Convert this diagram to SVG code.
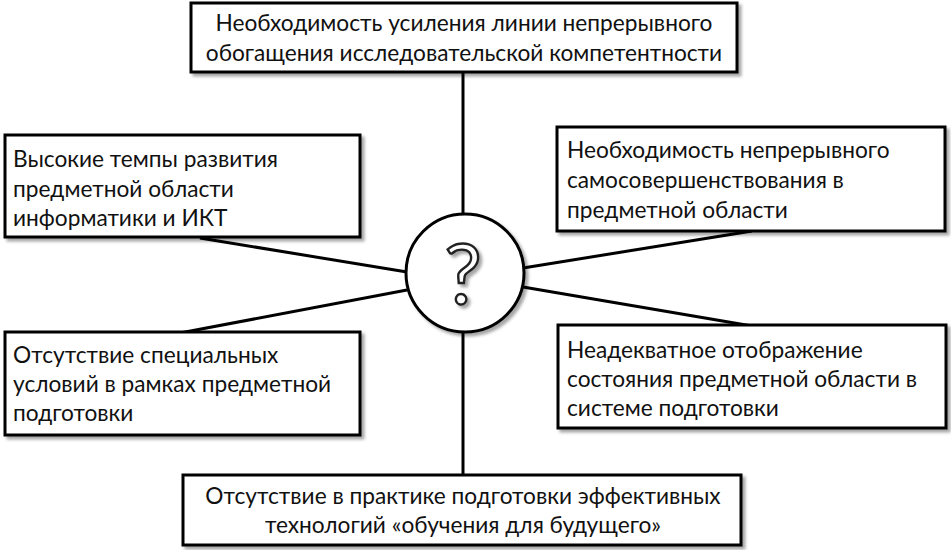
<svg xmlns="http://www.w3.org/2000/svg" width="951" height="550" viewBox="0 0 951 550">
<defs>
<filter id="sh" x="-10%" y="-10%" width="120%" height="130%">
<feDropShadow dx="3" dy="3" stdDeviation="1.5" flood-color="#000" flood-opacity="0.35"/>
</filter>
<style>
.box{fill:#fff;stroke:#000;stroke-width:3}
.t{font-family:Lato,"Open Sans","Liberation Sans",sans-serif;font-size:22.7px;fill:#111}
.c{text-anchor:middle}
.ln{stroke:#000;stroke-width:3;fill:none}
</style>
</defs>
<rect width="951" height="550" fill="#fff"/>
<g id="connectors">
<line class="ln" x1="463" y1="72" x2="463" y2="215"/>
<line class="ln" x1="463" y1="330" x2="463" y2="476"/>
<line class="ln" x1="200" y1="238" x2="407" y2="272"/>
<line class="ln" x1="180" y1="333" x2="407" y2="290"/>
<line class="ln" x1="752" y1="231" x2="523" y2="268"/>
<line class="ln" x1="752" y1="326" x2="523" y2="287"/>
</g>
<g id="center">
<circle cx="465" cy="273" r="59" fill="#fff" stroke="#000" stroke-width="3" filter="url(#sh)"/>
<text x="463" y="304" text-anchor="middle" font-family="Lato,'Liberation Sans',sans-serif" font-size="84" fill="#fff" stroke="#222" stroke-width="2.4" filter="url(#sh)">?</text>
</g>
<g id="n-top">
<rect class="box" x="191" y="3" width="546" height="69" filter="url(#sh)"/>
<text class="t c" x="464" y="31">Необходимость усиления линии непрерывного</text>
<text class="t c" x="464" y="61">обогащения исследовательской компетентности</text>
</g>
<g id="n-lefttop">
<rect class="box" x="5" y="135" width="355" height="102" filter="url(#sh)"/>
<text class="t" x="13" y="167">Высокие темпы развития</text>
<text class="t" x="13" y="197">предметной области</text>
<text class="t" x="13" y="226">информатики и ИКТ</text>
</g>
<g id="n-righttop">
<rect class="box" x="557" y="127" width="388" height="104" filter="url(#sh)"/>
<text class="t" x="567" y="158">Необходимость непрерывного</text>
<text class="t" x="567" y="188">самосовершенствования в</text>
<text class="t" x="567" y="218">предметной области</text>
</g>
<g id="n-leftbottom">
<rect class="box" x="5" y="332" width="355" height="103" filter="url(#sh)"/>
<text class="t" x="13" y="363">Отсутствие специальных</text>
<text class="t" x="13" y="392">условий в рамках предметной</text>
<text class="t" x="13" y="421">подготовки</text>
</g>
<g id="n-rightbottom">
<rect class="box" x="558" y="325" width="388" height="103" filter="url(#sh)"/>
<text class="t" x="567" y="358">Неадекватное отображение</text>
<text class="t" x="567" y="387">состояния предметной области в</text>
<text class="t" x="567" y="416">системе подготовки</text>
</g>
<g id="n-bottom">
<rect class="box" x="183" y="475" width="558" height="70" filter="url(#sh)"/>
<text class="t c" x="463" y="504">Отсутствие в практике подготовки эффективных</text>
<text class="t c" x="463" y="533">технологий «обучения для будущего»</text>
</g>
</svg>
